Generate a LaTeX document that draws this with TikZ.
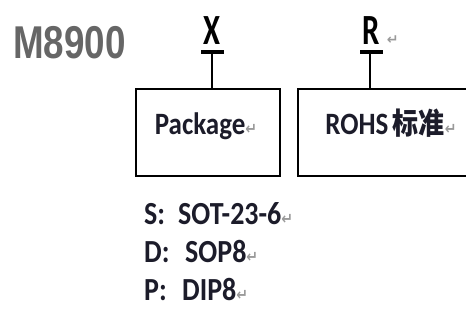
\documentclass[tikz,border=0pt]{standalone}
\usepackage{fontspec}
\setmainfont{Carlito}
\newfontfamily\cjkfont{Noto Sans CJK SC Bold}
\newfontfamily\symfont{DejaVu Sans}
\newfontfamily\titlefont{Liberation Sans}
\definecolor{txt}{HTML}{1C1C2A}
\definecolor{titlegray}{HTML}{666666}
\definecolor{markgray}{HTML}{9A9A9A}
\newcommand{\pmark}{{\symfont\fontsize{14}{14}\selectfont\color{markgray}↵}}
\newcommand{\tall}[1]{\scalebox{1}[1.15]{#1}}
\newcommand{\narrowed}[1]{\scalebox{0.75}[1.05]{#1}}
\tikzset{
  codebox/.style={draw=black, line width=1.4pt, rectangle, inner sep=0pt},
  codebar/.style={fill=black, rectangle, inner sep=0pt, minimum width=23pt, minimum height=4pt},
  letter/.style={font=\fontsize{41}{41}\selectfont\bfseries, text=black, inner sep=0pt, anchor=base},
  boxlabel/.style={font=\fontsize{27}{27}\selectfont\bfseries, text=txt, inner sep=0pt, anchor=base},
  listtext/.style={font=\fontsize{28}{28}\selectfont\bfseries, text=txt, inner sep=0pt, anchor=base west},
  link/.style={line width=1.4pt, draw=black}
}
\begin{document}
\begin{tikzpicture}[x=1pt,y=-1pt]
\useasboundingbox (0,0) rectangle (466,324);
\clip (0,0) rectangle (466,324);
\fill[white] (0,0) rectangle (466,324);
% title
\node[inner sep=0pt, anchor=base west, text=titlegray] (title) at (13,58)
  {\scalebox{0.8}[1]{\titlefont\fontsize{46}{46}\selectfont\bfseries M8900}};
% letters
\node[letter] (x) at (212,44) {\narrowed{X}};
\node[letter] (r) at (371.5,44) {\narrowed{R}\makebox[0pt][l]{\,\pmark}};
\node[codebar] (xbar) at (212,52) {};
\node[codebar] (rbar) at (371.5,52) {};
% boxes
\node[codebox, minimum width=144pt, minimum height=87pt] (box1) at (208,132.5) {};
\node[codebox, minimum width=182pt, minimum height=87pt] (box2) at (389,132.5) {};
\node[boxlabel] (pkg) at (206,134) {\tall{Package\pmark}};
\node[boxlabel] (rohs) at (391,134) {\tall{ROHS\,{\cjkfont\fontsize{26}{26}\selectfont 标准}\pmark}};
% connectors
\draw[link] (xbar.center) -- (xbar.center |- box1.north);
\draw[link] ([xshift=-1.5pt]rbar.center) -- ([xshift=-1.5pt]rbar.center |- box2.north);
% list
\node[listtext] (s) at (144,224) {\tall{S:}};
\node[listtext] (sv) at (178,224) {\tall{SOT-23-6\pmark}};
\node[listtext] (d) at (144,262) {\tall{D:}};
\node[listtext] (dv) at (185,262) {\tall{SOP8\pmark}};
\node[listtext] (p) at (144,300) {\tall{P:}};
\node[listtext] (pv) at (182,300) {\tall{DIP8\pmark}};
\end{tikzpicture}
\end{document}
